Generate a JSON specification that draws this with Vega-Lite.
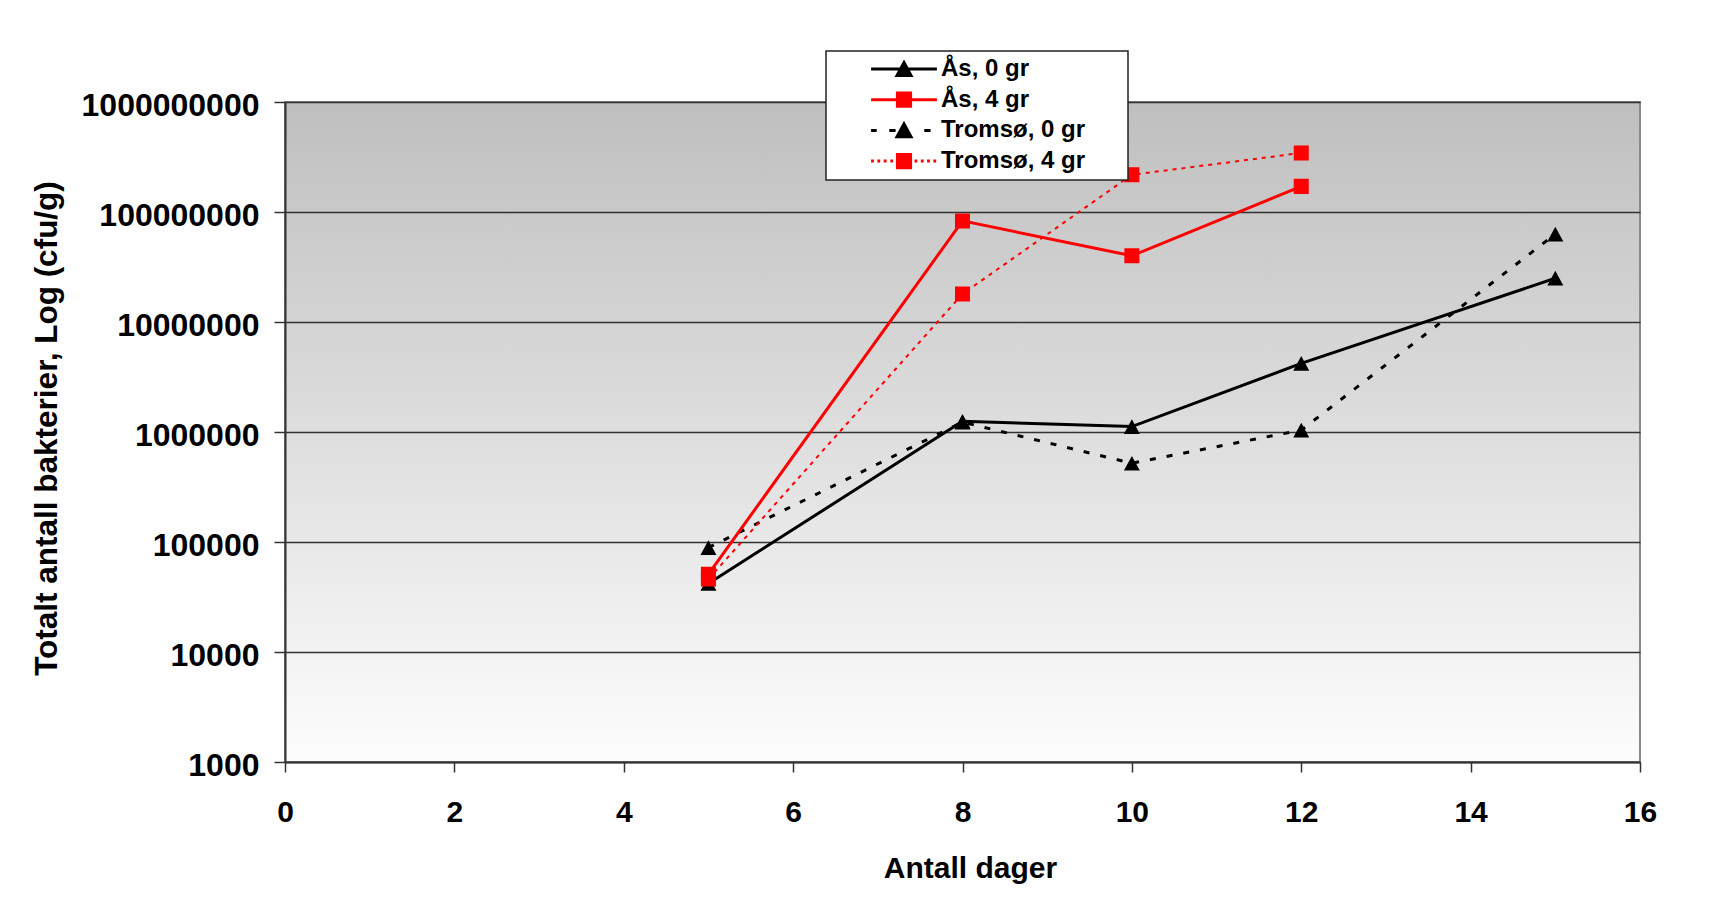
{
  "$schema": "https://vega.github.io/schema/vega-lite/v6.json",
  "width": 1355,
  "height": 660,
  "autosize": {"type": "none"},
  "padding": {"left": 285, "top": 102, "right": 91, "bottom": 139},
  "background": "white",
  "config": {
    "font": "Liberation Sans",
    "legend": {"strokeWidth": 1.5},
    "view": {
      "stroke": "#8a8a8a",
      "strokeWidth": 2,
      "fill": {"gradient": "linear", "x1": 0, "y1": 0, "x2": 0, "y2": 1, "stops": [{"offset": 0, "color": "#bfbfbf"}, {"offset": 1, "color": "#fdfdfd"}]}
    }
  },
  "data": {
    "values": [
      {"series": "Ås, 0 gr", "day": 5, "cfu": 42000},
      {"series": "Ås, 0 gr", "day": 8, "cfu": 1250000},
      {"series": "Ås, 0 gr", "day": 10, "cfu": 1120000},
      {"series": "Ås, 0 gr", "day": 12, "cfu": 4200000},
      {"series": "Ås, 0 gr", "day": 15, "cfu": 25000000},
      {"series": "Tromsø, 0 gr", "day": 5, "cfu": 89000},
      {"series": "Tromsø, 0 gr", "day": 8, "cfu": 1230000},
      {"series": "Tromsø, 0 gr", "day": 10, "cfu": 520000},
      {"series": "Tromsø, 0 gr", "day": 12, "cfu": 1040000},
      {"series": "Tromsø, 0 gr", "day": 15, "cfu": 63000000},
      {"series": "Tromsø, 4 gr", "day": 5, "cfu": 46000},
      {"series": "Tromsø, 4 gr", "day": 8, "cfu": 18000000},
      {"series": "Tromsø, 4 gr", "day": 10, "cfu": 218000000},
      {"series": "Tromsø, 4 gr", "day": 12, "cfu": 344000000},
      {"series": "Ås, 4 gr", "day": 5, "cfu": 51000},
      {"series": "Ås, 4 gr", "day": 8, "cfu": 83000000},
      {"series": "Ås, 4 gr", "day": 10, "cfu": 40000000},
      {"series": "Ås, 4 gr", "day": 12, "cfu": 171000000}
    ]
  },
  "encoding": {
    "x": {
      "field": "day", "type": "quantitative",
      "scale": {"domain": [0, 16], "nice": false, "zero": false},
      "axis": {
        "values": [0, 2, 4, 6, 8, 10, 12, 14, 16],
        "grid": false,
        "domainColor": "#333333", "domainWidth": 2,
        "tickColor": "#333333", "tickWidth": 1.5, "tickSize": 10,
        "labelFont": "Liberation Sans", "labelFontSize": 30, "labelFontWeight": "bold", "labelColor": "black",
        "labelPadding": 25, "labelFlush": false,
        "title": "Antall dager",
        "titleFont": "Liberation Sans", "titleFontSize": 30, "titleFontWeight": "bold", "titleColor": "black",
        "titleX": 685, "titleY": 91, "titleBaseline": "top"
      }
    },
    "y": {
      "field": "cfu", "type": "quantitative",
      "scale": {"type": "log", "domain": [1000, 1000000000], "nice": false},
      "axis": {
        "values": [1000, 10000, 100000, 1000000, 10000000, 100000000, 1000000000],
        "format": "d",
        "grid": true, "gridColor": "#333333", "gridWidth": 1.5,
        "domainColor": "#333333", "domainWidth": 2,
        "tickColor": "#333333", "tickWidth": 1.5, "tickSize": 11,
        "labelFont": "Liberation Sans", "labelFontSize": 32, "labelFontWeight": "bold", "labelColor": "black",
        "labelPadding": 15, "labelOffset": 3,
        "title": "Totalt antall bakterier, Log (cfu/g)",
        "titleFont": "Liberation Sans", "titleFontSize": 31.5, "titleFontWeight": "bold", "titleColor": "black",
        "titleX": -222, "titleY": 326, "titleAngle": -90, "titleBaseline": "bottom", "titleAlign": "center"
      }
    }
  },
  "layer": [
    {
      "transform": [{"filter": "datum.series === 'Ås, 0 gr'"}],
      "mark": {"type": "line", "color": "#000000", "strokeWidth": 3}
    },
    {
      "transform": [{"filter": "datum.series === 'Tromsø, 0 gr'"}],
      "mark": {"type": "line", "color": "#000000", "strokeWidth": 3, "strokeDash": [6, 11]}
    },
    {
      "transform": [{"filter": "datum.series === 'Tromsø, 4 gr'"}],
      "mark": {"type": "line", "color": "#ff0000", "strokeWidth": 2, "strokeDash": [4, 5]}
    },
    {
      "transform": [{"filter": "datum.series === 'Ås, 4 gr'"}],
      "mark": {"type": "line", "color": "#ff0000", "strokeWidth": 3}
    },
    {
      "mark": {"type": "point", "filled": true, "opacity": 0, "strokeWidth": 3, "size": 196},
      "encoding": {
        "fill": {
          "field": "series", "type": "nominal",
          "scale": {"domain": ["Ås, 0 gr", "Ås, 4 gr", "Tromsø, 0 gr", "Tromsø, 4 gr"], "range": ["#000000", "#ff0000", "#000000", "#ff0000"]},
          "legend": {
            "orient": "none", "legendX": 541, "legendY": -51,
            "title": null,
            "fillColor": "white", "strokeColor": "#222222",
            "padding": 6,
            "symbolSize": 196,
            "symbolStrokeWidth": 3,
            "symbolOpacity": 1,
            "symbolOffset": 60,
            "labelOffset": 25,
            "labelFont": "Liberation Sans", "labelFontSize": 24, "labelFontWeight": "bold", "labelColor": "black",
            "labelLimit": 600,
            "labelExpr": "datum.label + '\u2800\u2800'",
            "rowPadding": 4.7
          }
        },
        "stroke": {
          "field": "series", "type": "nominal",
          "scale": {"domain": ["Ås, 0 gr", "Ås, 4 gr", "Tromsø, 0 gr", "Tromsø, 4 gr"], "range": ["#000000", "#ff0000", "#000000", "#ff0000"]}
        },
        "shape": {
          "field": "series", "type": "nominal",
          "scale": {"domain": ["Ås, 0 gr", "Ås, 4 gr", "Tromsø, 0 gr", "Tromsø, 4 gr"], "range": [
            "M-4.7,0H4.7M0,-0.92L1,0.92L-1,0.92ZM0,-0.53L0.65,0.67L-0.65,0.67ZM0,-0.18L0.35,0.47L-0.35,0.47Z",
            "M-4.7,0H4.7M-0.94,-0.94H0.94V0.94H-0.94ZM-0.7,-0.7H0.7V0.7H-0.7ZM-0.47,-0.47H0.47V0.47H-0.47ZM-0.24,-0.24H0.24V0.24H-0.24ZM-0.03,-0.03H0.03V0.03H-0.03Z",
            "M-4.7,0H-3.9M-2.1,0H-1.2M2.9,0H3.8M0,-0.92L1,0.92L-1,0.92ZM0,-0.53L0.65,0.67L-0.65,0.67ZM0,-0.18L0.35,0.47L-0.35,0.47Z",
            "M-4.7,0H-4.3M-3.8,0H-3.4M-2.9,0H-2.5M-1.95,0H-1.55M1.5,0H1.9M2.4,0H2.8M3.3,0H3.7M4.2,0H4.6M-0.94,-0.94H0.94V0.94H-0.94ZM-0.7,-0.7H0.7V0.7H-0.7ZM-0.47,-0.47H0.47V0.47H-0.47ZM-0.24,-0.24H0.24V0.24H-0.24ZM-0.03,-0.03H0.03V0.03H-0.03Z"
          ]}
        }
      }
    },
    {
      "mark": {"type": "point", "filled": true, "opacity": 1, "size": 256},
      "encoding": {
        "fill": {"field": "series", "type": "nominal"},
        "shape": {"field": "series", "type": "nominal"}
      }
    }
  ]
}
